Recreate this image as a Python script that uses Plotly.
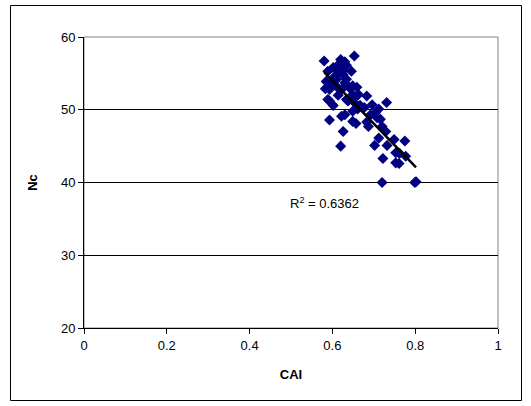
import numpy as np
import plotly.graph_objects as go

# CAI (codon adaptation index) versus Nc (effective number of codons)
cai = [0.580, 0.653, 0.620, 0.630, 0.646, 0.602, 0.614, 0.589, 0.606, 0.626,
       0.634, 0.585, 0.598, 0.610, 0.649, 0.659, 0.583, 0.593, 0.622, 0.614,
       0.649, 0.653, 0.683, 0.589, 0.593, 0.634, 0.638, 0.731, 0.602, 0.667,
       0.696, 0.712, 0.649, 0.661, 0.704, 0.622, 0.630, 0.593, 0.649, 0.657,
       0.683, 0.687, 0.716, 0.720, 0.729, 0.626, 0.712, 0.749, 0.775, 0.702,
       0.732, 0.620, 0.753, 0.762, 0.777, 0.722, 0.753, 0.761, 0.720, 0.799,
       0.802, 0.616, 0.634, 0.624, 0.610, 0.630, 0.642, 0.663, 0.655, 0.677,
       0.708, 0.692]
nc = [56.7, 57.4, 56.9, 56.6, 55.3, 55.8, 55.5, 55.3, 54.6, 54.8,
      54.2, 53.9, 53.5, 53.2, 53.3, 53.1, 52.9, 52.8, 52.8, 52.0,
      52.1, 51.6, 51.9, 51.4, 51.2, 51.4, 51.2, 51.0, 50.6, 50.6,
      50.7, 50.1, 49.8, 50.1, 49.6, 49.1, 49.3, 48.6, 48.4, 48.1,
      48.3, 47.7, 48.7, 47.7, 47.0, 47.0, 46.1, 45.9, 45.7, 45.1,
      45.1, 45.0, 44.1, 44.0, 43.6, 43.3, 42.7, 42.6, 40.0, 40.0,
      40.1, 56.3, 56.1, 55.3, 54.2, 53.7, 53.0, 52.1, 50.9, 50.3,
      48.9, 49.3]
r_squared_label = "R<sup>2</sup> = 0.6362"

x_ticks = [0, 0.2, 0.4, 0.6, 0.8, 1]
y_ticks = [20, 30, 40, 50, 60]

# Linear trend line over the span of the data
slope, intercept = np.polyfit(cai, nc, 1)
trend_x = np.array([min(cai), max(cai)])
trend_y = slope * trend_x + intercept

W, H = 531, 406
L, R, T, B = 84, 33, 37, 78
pw, ph = W - L - R, H - T - B

def px_to_paper_x(px):
    return (px - L) / pw

def px_to_paper_y(py):
    return (H - B - py) / ph

fig = go.Figure()
fig.add_trace(go.Scatter(
    x=cai, y=nc, mode="markers",
    marker=dict(symbol="diamond", size=8.5, color="#000080", line=dict(width=0)),
    showlegend=False,
))
fig.add_trace(go.Scatter(
    x=trend_x, y=trend_y, mode="lines",
    line=dict(color="black", width=2.5),
    showlegend=False,
))

fig.add_annotation(
    x=0.58, y=37.2, xref="x", yref="y", text=r_squared_label,
    showarrow=False, font=dict(size=13, color="black"),
)

shapes = [
    # light frame around the plotting area
    dict(type="rect", xref="paper", yref="paper", x0=0, x1=1, y0=0, y1=1,
         line=dict(color="#808080", width=1), layer="below"),
    # outer chart border
    dict(type="rect", xref="paper", yref="paper",
         x0=px_to_paper_x(10.5), x1=px_to_paper_x(521.5),
         y0=px_to_paper_y(400.5), y1=px_to_paper_y(5.5),
         line=dict(color="black", width=1)),
]

fig.update_layout(
    width=W, height=H,
    margin=dict(l=L, r=R, t=T, b=B),
    paper_bgcolor="white", plot_bgcolor="white",
    font=dict(family="Liberation Sans, Arial, sans-serif", size=13, color="black"),
    shapes=shapes,
    xaxis=dict(
        range=[0, 1], tickvals=x_ticks, ticktext=[f"{v:g}" for v in x_ticks],
        showgrid=False, zeroline=False, showline=True, linecolor="black", linewidth=1,
        ticks="outside", ticklen=5, tickcolor="black",
        tickfont=dict(size=13),
        title=dict(text="<b>CAI</b>", font=dict(size=13), standoff=18),
    ),
    yaxis=dict(
        range=[20, 60], tickvals=y_ticks,
        showgrid=True, gridcolor="black", gridwidth=1, zeroline=False,
        showline=True, linecolor="black", linewidth=1,
        ticks="outside", ticklen=5, tickcolor="black",
        tickfont=dict(size=13),
        title=dict(text="<b>Nc</b>", font=dict(size=13), standoff=20),
    ),
)

fig.write_html("out.html")
